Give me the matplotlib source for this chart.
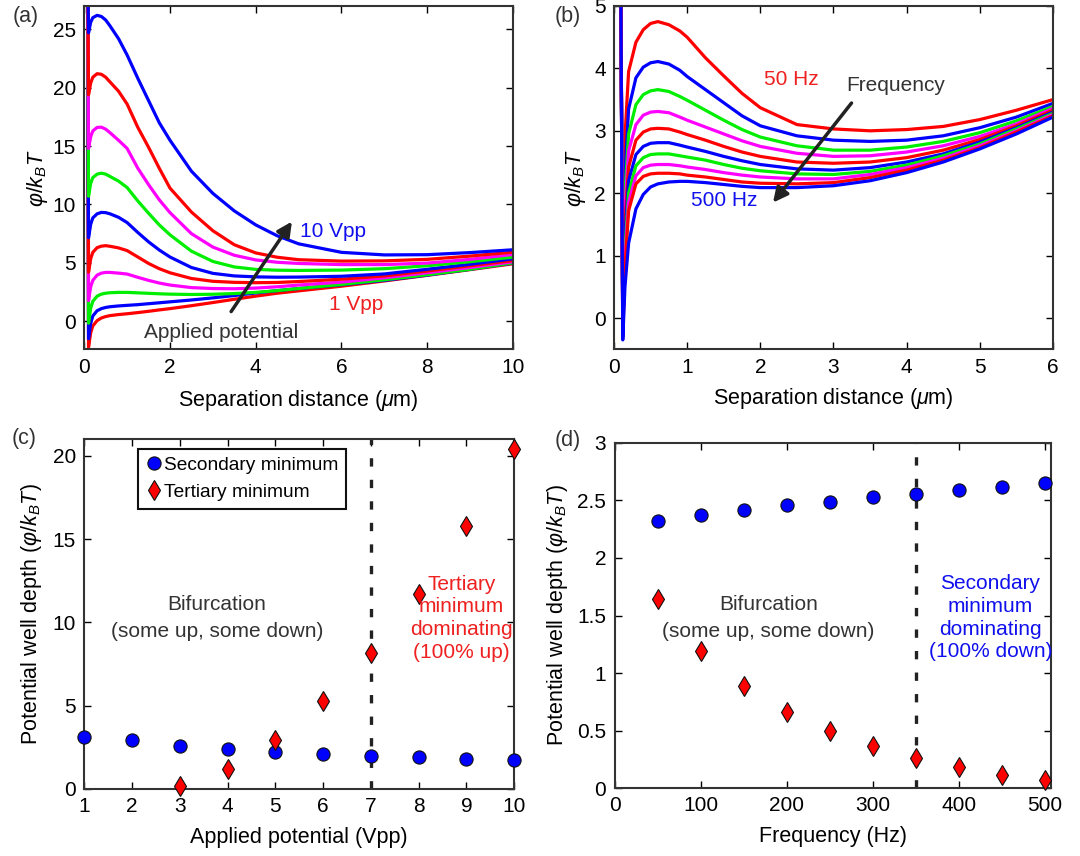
import numpy as np
import matplotlib
matplotlib.use("Agg")
import matplotlib.pyplot as plt
from matplotlib.ticker import FormatStrFormatter

plt.rcParams['font.family'] = ['Liberation Sans', 'DejaVu Sans']
plt.rcParams['mathtext.fontset'] = 'custom'
plt.rcParams['mathtext.rm'] = 'Liberation Sans'
plt.rcParams['mathtext.it'] = 'Liberation Sans:italic'
plt.rcParams['lines.scale_dashes'] = False

# ---- panel (a): potential vs separation, 1..10 Vpp (bottom to top)
xa = [0.08, 0.1, 0.15, 0.2, 0.3, 0.4, 0.5, 0.6, 0.8, 1.0, 1.25, 1.5, 1.75, 2.0,
      2.5, 3.0, 3.5, 4.0, 4.5, 5.0, 6.0, 7.0, 8.0, 9.0, 10.0]
phi_a = [
    [30, -2.23, -1.0, -0.4, 0.05, 0.28, 0.4, 0.48, 0.57, 0.64, 0.74, 0.85, 0.97, 1.08,
     1.33, 1.6, 1.88, 2.15, 2.4, 2.6, 3.0, 3.45, 3.93, 4.42, 4.92],
    [30, -1.5, -0.2, 0.45, 0.9, 1.08, 1.18, 1.24, 1.31, 1.36, 1.42, 1.5, 1.58, 1.66,
     1.82, 2.0, 2.2, 2.42, 2.62, 2.8, 3.12, 3.5, 3.95, 4.45, 4.98],
    [30, -0.17, 1.1, 1.7, 2.15, 2.32, 2.4, 2.44, 2.47, 2.47, 2.43, 2.39, 2.35, 2.32,
     2.29, 2.31, 2.37, 2.47, 2.62, 2.8, 3.15, 3.55, 3.98, 4.45, 5.0],
    [30, 1.77, 2.95, 3.5, 3.95, 4.12, 4.18, 4.18, 4.12, 4.04, 3.76, 3.5, 3.27, 3.1,
     2.88, 2.8, 2.78, 2.84, 2.95, 3.1, 3.35, 3.72, 4.15, 4.6, 5.09],
    [30, 4.2, 5.35, 5.9, 6.3, 6.43, 6.47, 6.42, 6.28, 6.05, 5.5, 4.95, 4.5, 4.15,
     3.66, 3.42, 3.33, 3.3, 3.32, 3.4, 3.6, 3.88, 4.3, 4.75, 5.2],
    [30, 7.15, 8.3, 8.85, 9.2, 9.32, 9.3, 9.2, 8.9, 8.45, 7.6, 6.8, 6.1, 5.5,
     4.6, 4.1, 3.88, 3.8, 3.77, 3.78, 3.85, 4.05, 4.45, 4.88, 5.35],
    [30, 10.7, 11.8, 12.3, 12.6, 12.68, 12.6, 12.4, 12.0, 11.45, 10.3, 9.25, 8.25, 7.4,
     6.0, 5.12, 4.65, 4.44, 4.37, 4.35, 4.38, 4.5, 4.75, 5.1, 5.49],
    [30, 14.8, 15.8, 16.3, 16.6, 16.62, 16.45, 16.15, 15.5, 14.8, 13.1, 11.7, 10.4, 9.3,
     7.5, 6.35, 5.65, 5.25, 5.05, 4.95, 4.85, 4.85, 4.98, 5.3, 5.72],
    [30, 19.4, 20.4, 20.9, 21.2, 21.15, 20.9, 20.5, 19.7, 18.6, 16.6, 14.9, 13.1, 11.4,
     9.35, 7.75, 6.55, 5.85, 5.48, 5.27, 5.15, 5.17, 5.3, 5.58, 5.92],
    [30, 24.7, 25.6, 26.0, 26.2, 26.1, 25.8, 25.3, 24.2, 22.8, 20.8, 18.9, 17.0, 15.5,
     12.85, 10.95, 9.45, 8.25, 7.32, 6.63, 5.9, 5.68, 5.7, 5.88, 6.12],
]

# ---- panel (b): potential vs separation, 50..500 Hz (top to bottom)
xb = [0.09, 0.12, 0.15, 0.2, 0.3, 0.4, 0.5, 0.6, 0.75, 0.9, 1.0, 1.25, 1.5, 1.75,
      2.0, 2.5, 3.0, 3.5, 4.0, 4.5, 5.0, 5.5, 6.0]
phi_b = [
    [6, 0.1, 2.9, 3.95, 4.42, 4.62, 4.72, 4.75, 4.7, 4.6, 4.5, 4.17, 3.88, 3.6,
     3.37, 3.1, 3.03, 3.0, 3.02, 3.07, 3.18, 3.33, 3.5],
    [6, 0.05, 2.3, 3.35, 3.85, 4.02, 4.09, 4.11, 4.07, 3.97, 3.87, 3.66, 3.45, 3.24,
     3.08, 2.92, 2.85, 2.83, 2.85, 2.92, 3.05, 3.22, 3.44],
    [6, 0.0, 2.0, 2.95, 3.42, 3.58, 3.64, 3.66, 3.63, 3.55, 3.49, 3.33, 3.17, 3.02,
     2.9, 2.76, 2.69, 2.69, 2.74, 2.83, 2.97, 3.16, 3.39],
    [6, -0.05, 1.75, 2.68, 3.1, 3.25, 3.3, 3.31, 3.29, 3.22, 3.17, 3.06, 2.95, 2.84,
     2.75, 2.64, 2.59, 2.6, 2.66, 2.76, 2.91, 3.11, 3.36],
    [6, -0.1, 1.5, 2.42, 2.85, 2.98, 3.03, 3.04, 3.03, 2.98, 2.94, 2.85, 2.75, 2.66,
     2.59, 2.5, 2.48, 2.5, 2.57, 2.69, 2.86, 3.08, 3.33],
    [6, -0.15, 1.3, 2.2, 2.62, 2.75, 2.8, 2.81, 2.81, 2.77, 2.74, 2.67, 2.59, 2.52,
     2.46, 2.39, 2.37, 2.41, 2.5, 2.63, 2.82, 3.05, 3.3],
    [6, -0.2, 1.1, 2.0, 2.44, 2.57, 2.62, 2.63, 2.63, 2.6, 2.58, 2.53, 2.46, 2.4,
     2.36, 2.31, 2.3, 2.35, 2.45, 2.6, 2.79, 3.03, 3.28],
    [6, -0.25, 0.95, 1.85, 2.28, 2.41, 2.45, 2.46, 2.46, 2.44, 2.42, 2.38, 2.33, 2.29,
     2.26, 2.23, 2.23, 2.3, 2.41, 2.56, 2.76, 3.0, 3.26],
    [6, -0.3, 0.8, 1.72, 2.15, 2.27, 2.31, 2.32, 2.32, 2.31, 2.29, 2.26, 2.22, 2.18,
     2.16, 2.15, 2.17, 2.25, 2.37, 2.53, 2.73, 2.98, 3.24],
    [6, -0.35, 0.5, 1.2, 1.75, 1.98, 2.1, 2.15, 2.18, 2.19, 2.19, 2.17, 2.14, 2.11,
     2.09, 2.09, 2.12, 2.2, 2.33, 2.5, 2.71, 2.95, 3.22],
]

# ---- panel (c): well depth vs applied potential
vpp = [1, 2, 3, 4, 5, 6, 7, 8, 9, 10]
sec_c = [3.12, 2.92, 2.58, 2.38, 2.22, 2.12, 2.0, 1.9, 1.82, 1.74]
vpp_ter = [3, 4, 5, 6, 7, 8, 9, 10]
ter_c = [0.16, 1.2, 2.92, 5.25, 8.17, 11.7, 15.8, 20.4]

# ---- panel (d): well depth vs frequency
freq = [50, 100, 150, 200, 250, 300, 350, 400, 450, 500]
sec_d = [2.32, 2.37, 2.42, 2.46, 2.49, 2.53, 2.56, 2.59, 2.62, 2.65]
ter_d = [1.645, 1.19, 0.884, 0.663, 0.495, 0.362, 0.261, 0.183, 0.116, 0.07]

colors = ['#ff0000', '#0000ff', '#00ee00', '#ff00ff']
dark = '#333333'
red_txt = '#ee2020'
blue_txt = '#1010ee'
fs_tick = 15
fs_label = 15.5
fs_text = 15


def style_axes(ax):
    for s in ax.spines.values():
        s.set_linewidth(1.5)
        s.set_color(dark)
    ax.tick_params(direction='in', top=True, right=True, length=5, width=1.0,
                   labelsize=fs_tick, colors='black', pad=6)
    ax.yaxis.set_major_formatter(FormatStrFormatter('%g'))


fig = plt.figure(figsize=(10.8, 8.56), dpi=100)

# (a)
ax = fig.add_axes([0.078, 0.592, 0.397, 0.401])
for i, ys in enumerate(phi_a):
    ax.plot(xa, ys, color=colors[i % 4], lw=2.3, solid_joinstyle='round')
ax.set_xlim(0, 10)
ax.set_ylim(-2.4, 27)
ax.set_xticks([0, 2, 4, 6, 8, 10])
ax.set_yticks([0, 5, 10, 15, 20, 25])
ax.set_xlabel(r'Separation distance ($\mu$m)', fontsize=fs_label, labelpad=8)
ax.set_ylabel(r'$\varphi/k_{B}T$', fontsize=fs_label, labelpad=2)
ax.text(5.81, 7.7, '10 Vpp', color=blue_txt, fontsize=fs_text, ha='center', va='center')
ax.text(6.34, 1.43, '1 Vpp', color=red_txt, fontsize=fs_text, ha='center', va='center')
ax.text(3.2, -0.95, 'Applied potential', color=dark, fontsize=fs_text, ha='center', va='center')
ax.annotate('', xy=(4.88, 8.73), xytext=(3.39, 0.63),
            arrowprops=dict(arrowstyle='-|>', lw=2.5, color='#222222', mutation_scale=22))
style_axes(ax)

# (b)
ax = fig.add_axes([0.5685, 0.592, 0.4065, 0.401])
for i, ys in enumerate(phi_b):
    ax.plot(xb, ys, color=colors[i % 4], lw=2.3, solid_joinstyle='round')
ax.set_xlim(0, 6)
ax.set_ylim(-0.5, 5)
ax.set_xticks(range(0, 7))
ax.set_yticks(range(0, 6))
ax.set_xlabel(r'Separation distance ($\mu$m)', fontsize=fs_label, labelpad=7)
ax.set_ylabel(r'$\varphi/k_{B}T$', fontsize=fs_label, labelpad=4)
ax.text(2.42, 3.82, '50 Hz', color=red_txt, fontsize=fs_text, ha='center', va='center')
ax.text(3.85, 3.73, 'Frequency', color=dark, fontsize=fs_text, ha='center', va='center')
ax.text(1.5, 1.885, '500 Hz', color=blue_txt, fontsize=fs_text, ha='center', va='center')
ax.annotate('', xy=(2.15, 1.815), xytext=(3.27, 3.48),
            arrowprops=dict(arrowstyle='-|>', lw=2.5, color='#222222', mutation_scale=22))
style_axes(ax)

# (c)
ax = fig.add_axes([0.078, 0.0783, 0.398, 0.4088])
ax.axvline(7, color='#222222', lw=2.4, dashes=(6, 9.5))
ax.plot(vpp, sec_c, 'o', color='#0000ff', mec='#111111', mew=0.8, ms=9.5,
        label='Secondary minimum', clip_on=False, zorder=3)
ax.plot(vpp_ter, ter_c, 'd', color='#ff0000', mec='#111111', mew=0.8, ms=10.5,
        label='Tertiary minimum', clip_on=False, zorder=3)
ax.set_xlim(1, 10)
ax.set_ylim(0, 21)
ax.set_xticks(vpp)
ax.set_yticks([0, 5, 10, 15, 20])
ax.set_xlabel('Applied potential (Vpp)', fontsize=fs_label, labelpad=8)
ax.set_ylabel(r'Potential well depth ($\varphi/k_{B}T$)', fontsize=fs_label, labelpad=6)
ax.text(3.78, 10.25, 'Bifurcation\n(some up, some down)', color=dark, fontsize=fs_text,
        ha='center', va='center', linespacing=1.5)
ax.text(8.9, 10.25, 'Tertiary\nminimum\ndominating\n(100% up)', color=red_txt,
        fontsize=fs_text, ha='center', va='center', linespacing=1.25)
leg = ax.legend(loc='upper left', bbox_to_anchor=(0.125, 0.972), fontsize=13.8,
                fancybox=False, framealpha=1, edgecolor='#111111', handletextpad=0.05,
                handlelength=0.9, borderpad=0.4, labelspacing=0.5, borderaxespad=0)
leg.get_frame().set_linewidth(1.5)
style_axes(ax)

# (d)
ax = fig.add_axes([0.569, 0.0794, 0.4046, 0.4031])
ax.axvline(350, color='#222222', lw=2.4, dashes=(6, 9.5))
ax.plot(freq, sec_d, 'o', color='#0000ff', mec='#111111', mew=0.8, ms=9.5,
        clip_on=False, zorder=3)
ax.plot(freq, ter_d, 'd', color='#ff0000', mec='#111111', mew=0.8, ms=10.5,
        clip_on=False, zorder=3)
ax.set_xlim(0, 508)
ax.set_ylim(0, 3)
ax.set_xticks([0, 100, 200, 300, 400, 500])
ax.set_yticks([0, 0.5, 1, 1.5, 2, 2.5, 3])
ax.set_xlabel('Frequency (Hz)', fontsize=fs_label, labelpad=8)
ax.set_ylabel(r'Potential well depth ($\varphi/k_{B}T$)', fontsize=fs_label, labelpad=5)
ax.text(179, 1.48, 'Bifurcation\n(some up, some down)', color=dark, fontsize=fs_text,
        ha='center', va='center', linespacing=1.5)
ax.text(437, 1.48, 'Secondary\nminimum\ndominating\n(100% down)', color=blue_txt,
        fontsize=fs_text, ha='center', va='center', linespacing=1.25)
style_axes(ax)

for lab, x, y in [('(a)', 0.024, 0.981), ('(b)', 0.526, 0.981),
                  ('(c)', 0.022, 0.488), ('(d)', 0.526, 0.485)]:
    fig.text(x, y, lab, fontsize=15.5, color=dark, ha='center', va='center')

fig.savefig('out.png', dpi=100)
